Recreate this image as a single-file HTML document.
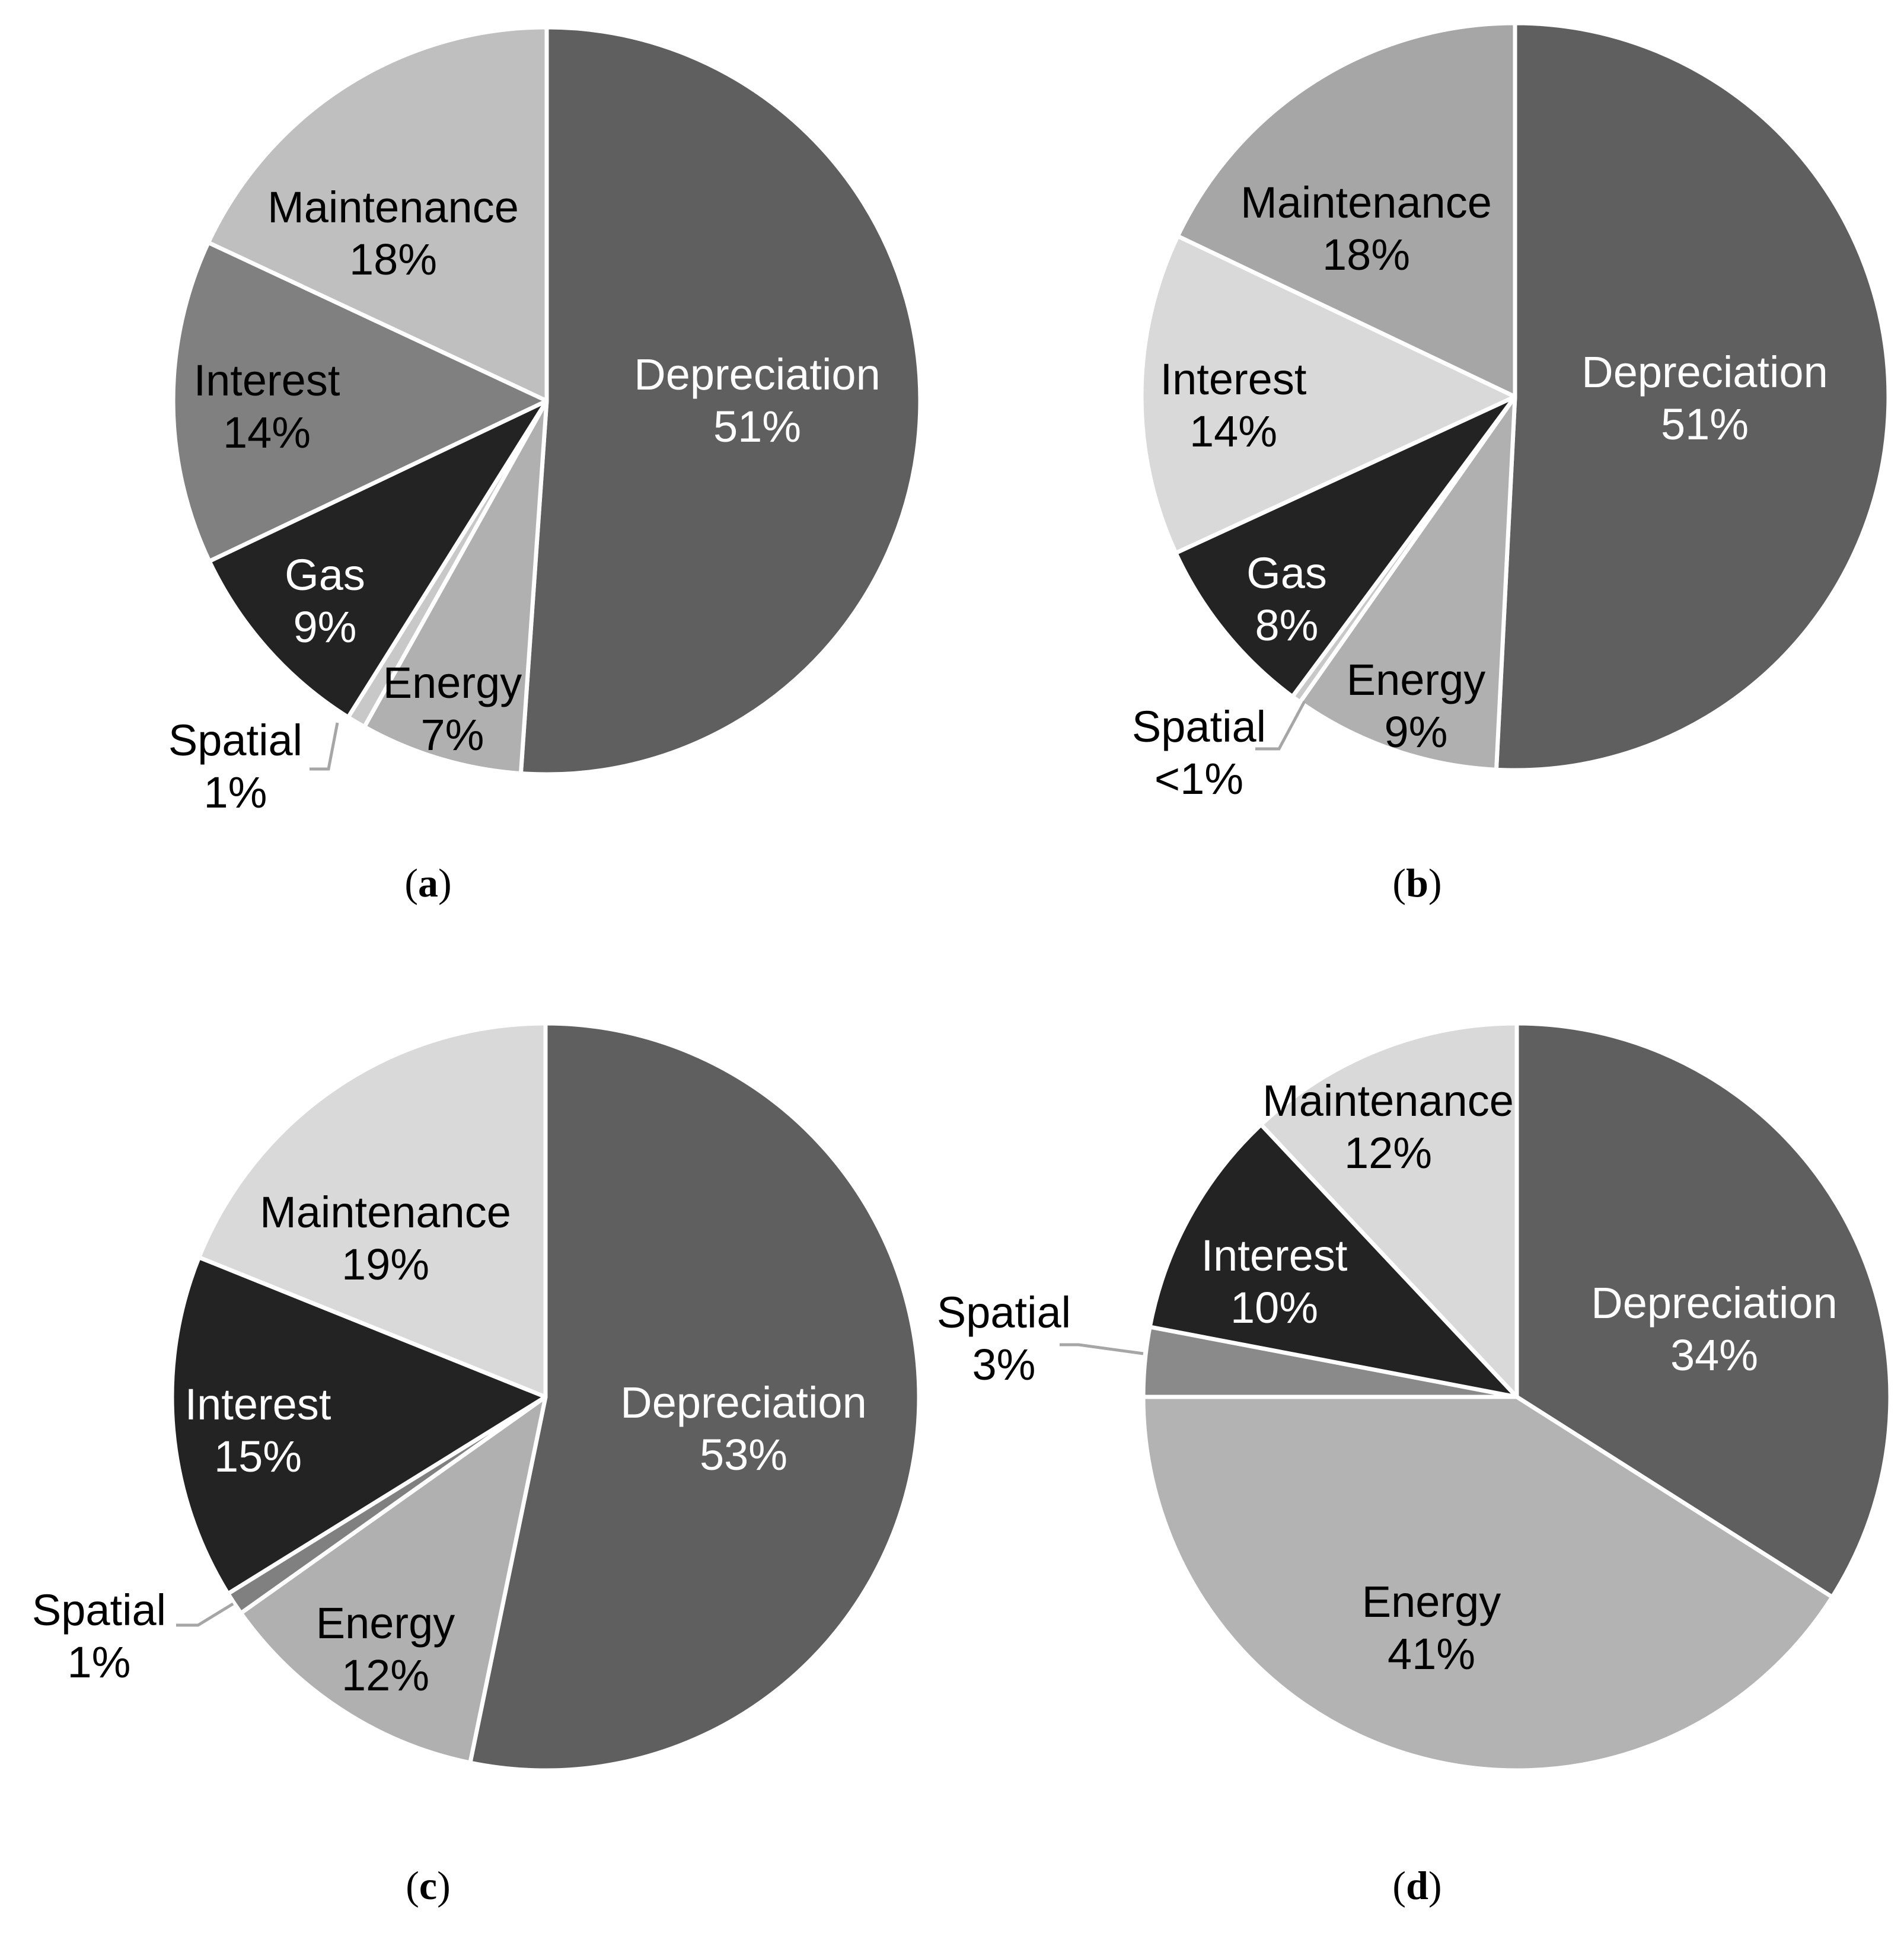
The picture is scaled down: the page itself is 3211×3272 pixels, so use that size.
<!DOCTYPE html>
<html><head><meta charset="utf-8"><style>
html,body{margin:0;padding:0;background:#fff}
svg{display:block}
text{font-family:"Liberation Sans",Arial,sans-serif;font-size:74px}
.cap{font-family:"Liberation Serif",serif;font-size:68px}
</style></head><body>
<svg id="chart" width="3211" height="3272" viewBox="0 0 3211 3272" xmlns="http://www.w3.org/2000/svg"></svg>
<script>
// Data: slice order clockwise from 12 o'clock
const categoriesA = ["Depreciation","Energy","Spatial","Gas","Interest","Maintenance"];
const valuesA = [51,7,0.8,9,14,18];
const labelsA = ["51%","7%","1%","9%","14%","18%"];
const categoriesB = ["Depreciation","Energy","Spatial","Gas","Interest","Maintenance"];
const valuesB = [51,9,0.4,8,14,18];
const labelsB = ["51%","9%","<1%","8%","14%","18%"];
const categoriesC = ["Depreciation","Energy","Spatial","Interest","Maintenance"];
const valuesC = [53.5,12,1,15,19];
const labelsC = ["53%","12%","1%","15%","19%"];
const categoriesD = ["Depreciation","Energy","Spatial","Interest","Maintenance"];
const valuesD = [34,41,3,10,12];
const labelsD = ["34%","41%","3%","10%","12%"];

const NS="http://www.w3.org/2000/svg";
const svg=document.getElementById('chart');
function mk(tag,attrs,parent){const e=document.createElementNS(NS,tag);for(const k in attrs)e.setAttribute(k,attrs[k]);(parent||svg).appendChild(e);return e;}

const panels=[
 {id:"a",cats:categoriesA,vals:valuesA,labs:labelsA,cx:922,cy:676,r:630,
  fills:["#5f5f5f","#b0b0b0","#c8c8c8","#232323","#808080","#bfbfbf"],
  txt:["#fff","#000","#000","#fff","#000","#000"],
  pos:[[1277,675],[763,1195],[397,1292],[548,1013],[450,685],[663,393]],
  leader:[[569,1219],[554,1297],[522,1297]],cap:[722,1512]},
 {id:"b",cats:categoriesB,vals:valuesB,labs:labelsB,cx:2555,cy:669,r:630,
  fills:["#5f5f5f","#b0b0b0","#c8c8c8","#232323","#d9d9d9","#a6a6a6"],
  txt:["#fff","#000","#000","#fff","#000","#000"],
  pos:[[2875,671],[2388,1190],[2022,1269],[2170,1010],[2080,683],[2304,385]],
  leader:[[2200,1183],[2157,1263],[2117,1263]],cap:[2390,1512]},
 {id:"c",cats:categoriesC,vals:valuesC,labs:labelsC,cx:920,cy:2356,r:630,
  fills:["#5f5f5f","#b0b0b0","#808080","#232323","#d9d9d9"],
  txt:["#fff","#000","#000","#fff","#000"],
  pos:[[1254,2409],[650,2781],[167,2759],[435,2412],[650,2088]],
  leader:[[393,2705],[334,2741],[297,2741]],cap:[722,3203]},
 {id:"d",cats:categoriesD,vals:valuesD,labs:labelsD,cx:2558,cy:2356,r:630,
  fills:["#5f5f5f","#b3b3b3","#8a8a8a","#232323","#d9d9d9"],
  txt:["#fff","#000","#000","#fff","#000"],
  pos:[[2891,2241],[2414,2745],[1693,2257],[2149,2161],[2341,1900]],
  leader:[[1928,2283],[1819,2268],[1787,2268]],cap:[2390,3203]}
];

panels.forEach(p=>{
  const g=mk('g',{});
  
  
  const total=p.vals.reduce((a,b)=>a+b,0);
  let a0=0;
  p.vals.forEach((v,i)=>{
    const a1=a0+v/total*2*Math.PI;
    const x0=p.cx+p.r*Math.sin(a0), y0=p.cy-p.r*Math.cos(a0);
    const x1=p.cx+p.r*Math.sin(a1), y1=p.cy-p.r*Math.cos(a1);
    const large=(a1-a0)>Math.PI?1:0;
    const path=mk('path',{d:`M${p.cx},${p.cy} L${x0},${y0} A${p.r},${p.r} 0 ${large} 1 ${x1},${y1} Z`,fill:p.fills[i],stroke:"#fff","stroke-width":7,"stroke-linejoin":"round"},g);
    
    
    a0=a1;
  });
  const ld=mk('polyline',{points:p.leader.map(q=>q.join(',')).join(' '),fill:"none",stroke:"#a6a6a6","stroke-width":5},g);
  
  
  p.cats.forEach((c,i)=>{
    const t=mk('text',{x:p.pos[i][0],y:p.pos[i][1]-18,fill:p.txt[i],"text-anchor":"middle"},g);
    
    
    const s1=mk('tspan',{x:p.pos[i][0],dy:0},t);s1.textContent=c;
    const s2=mk('tspan',{x:p.pos[i][0],dy:88},t);s2.textContent=p.labs[i];
  });
  const cap=mk('text',{x:p.cap[0],y:p.cap[1],"text-anchor":"middle",class:"cap"},g);
  
  
  const o=mk('tspan',{},cap);o.textContent="(";
  const b=mk('tspan',{"font-weight":"bold"},cap);b.textContent=p.id;
  const c2=mk('tspan',{},cap);c2.textContent=")";
});
</script>
</body></html>
